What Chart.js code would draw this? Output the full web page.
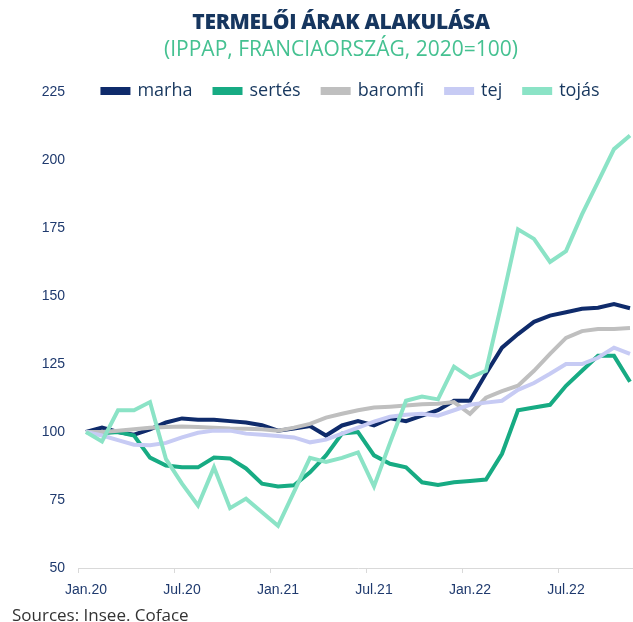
<!DOCTYPE html>
<html>
<head>
<meta charset="utf-8">
<script src="https://cdn.jsdelivr.net/npm/chart.js@4.4.1/dist/chart.umd.min.js"></script>
<style>
  html, body { margin: 0; padding: 0; background: #fff; width: 633px; height: 622px; overflow: hidden; }
  #wrap { position: absolute; left: 0; top: 0; width: 660px; height: 622px; }
  .head { position: absolute; left: 341px; transform: translateX(-50%); white-space: nowrap; font-family: "Open Sans", sans-serif; }
  #title { top: 7px; font-size: 21px; font-weight: 800; color: #16365f; letter-spacing: -0.3px; }
  #subtitle { top: 34px; font-size: 21px; color: #45c191; }
  #source { position: absolute; left: 12px; top: 603px; font-family: "Open Sans", sans-serif; font-size: 17px; color: #333; }
</style>
</head>
<body>
<div id="wrap"><canvas id="chart"></canvas></div>
<div class="head" id="title">TERMELŐI ÁRAK ALAKULÁSA</div>
<div class="head" id="subtitle">(IPPAP, FRANCIAORSZÁG, 2020=100)</div>
<div id="source">Sources: Insee. Coface</div>
<script>
// months Jan 2020 .. Nov 2022
const months = [
  "Jan.20", "Feb.20", "Mar.20", "Apr.20", "May.20", "Jun.20", "Jul.20", "Aug.20", "Sep.20", "Oct.20", "Nov.20", "Dec.20",
  "Jan.21", "Feb.21", "Mar.21", "Apr.21", "May.21", "Jun.21", "Jul.21", "Aug.21", "Sep.21", "Oct.21", "Nov.21", "Dec.21",
  "Jan.22", "Feb.22", "Mar.22", "Apr.22", "May.22", "Jun.22", "Jul.22", "Aug.22", "Sep.22", "Oct.22", "Nov.22"
];
const shownLabels = ["Jan.20", "Jul.20", "Jan.21", "Jul.21", "Jan.22", "Jul.22"];
const yTicks = [50, 75, 100, 125, 150, 175, 200, 225];

const marha = [100, 101.6, 100, 99, 101, 103.5, 105, 104.5, 104.5, 104, 103.5, 102.5,
  100.5, 101.3, 102.2, 98.7, 102.4, 104, 102.4, 105, 104, 106, 108, 111.5,
  111.5, 121.5, 131, 136, 140.5, 142.8, 144, 145.3, 145.7, 147, 145.5];
const sertes = [100, 99.5, 100, 98.7, 90.6, 87.7, 87, 87, 90.6, 90.3, 86.6, 81,
  80, 80.4, 85.2, 91.4, 99.4, 100, 91.4, 88.3, 87, 81.5, 80.5, 81.5,
  82, 82.5, 92, 108, 109, 110, 117, 122.5, 128, 128, 118.5];
const baromfi = [100, 100, 100.5, 101, 101.6, 101.8, 102, 101.8, 101.6, 101.3, 101.2, 101,
  100.5, 101.6, 103, 105.3, 106.7, 108, 109, 109.3, 109.7, 110.2, 110.4, 111,
  106.7, 112.6, 115, 117, 122.5, 128.7, 134.6, 137.1, 137.9, 137.9, 138.2];
const tej = [100, 98.7, 97, 95.3, 95.1, 96, 98, 99.7, 100.5, 100.5, 99.4, 99,
  98.5, 98, 96.2, 97.2, 99.4, 101.6, 103.8, 105.6, 106.3, 106.7, 106, 108,
  110, 110.8, 111.5, 115.5, 118, 121.4, 125, 125, 127.3, 131, 128.7];
const tojas = [100, 96.5, 108, 108, 111, 90, 81, 73, 87, 72, 75.5, 70.5,
  65.5, 78, 90.5, 89, 90.5, 92.5, 80, 96, 111.5, 113, 112, 124,
  120, 122.5, 148, 174.5, 171, 162.5, 166.5, 180, 192, 204, 209];

const seriesNames = ["marha", "sertés", "baromfi", "tej", "tojás"];
const seriesData = [marha, sertes, baromfi, tej, tojas];
const seriesColors = ["#0f2b6b", "#17ab83", "#bfbfbf", "#c7cbf4", "#8be3c6"];

const navy = "#1f3a6e";

// push the legend down so it sits level with the top tick
const legendShift = {
  id: "legendShift",
  afterLayout(chart) {
    const lg = chart.legend;
    lg.top += 18; lg.bottom += 18;
    lg.left += 32; lg.right += 32;
  }
};

const datasets = seriesNames.map((name, i) => ({
  label: name,
  data: seriesData[i],
  borderColor: seriesColors[i],
  backgroundColor: seriesColors[i],
  borderWidth: 4,
  pointRadius: 0,
  tension: 0,
  order: seriesNames.length - i
}));

new Chart(document.getElementById("chart"), {
  type: "line",
  data: { labels: months, datasets: datasets },
  plugins: [legendShift],
  options: {
    responsive: true,
    maintainAspectRatio: false,
    animation: false,
    layout: { padding: { top: 42, right: 22, bottom: 22, left: 0 } },
    plugins: {
      tooltip: { enabled: false },
      legend: {
        position: "top",
        align: "center",
        labels: {
          boxWidth: 26,
          boxHeight: 4,
          padding: 22,
          color: "#17375e",
          font: { family: "Open Sans", size: 18 },
          sort: (a, b) => a.datasetIndex - b.datasetIndex
        }
      }
    },
    scales: {
      x: {
        offset: true,
        afterFit: (s) => { s.height = 32; },
        grid: {
          offset: true,
          drawOnChartArea: false,
          tickLength: 5,
          tickColor: (ctx) => (ctx.index % 6 === 0 ? "#d9d9d9" : "rgba(0,0,0,0)")
        },
        border: { color: "#d9d9d9", width: 1 },
        ticks: {
          autoSkip: false,
          maxRotation: 0,
          padding: 9,
          color: navy,
          font: { family: "Liberation Sans", size: 14 },
          callback: function (v, i) {
            const lab = months[i];
            return shownLabels.includes(lab) ? lab : "";
          }
        }
      },
      y: {
        min: yTicks[0],
        max: yTicks[yTicks.length - 1],
        afterFit: (s) => { s.width = 78; },
        afterBuildTicks: (s) => { s.ticks = yTicks.map(v => ({ value: v })); },
        grid: { display: false, drawTicks: false },
        border: { display: false },
        ticks: {
          padding: 13,
          color: navy,
          font: { family: "Liberation Sans", size: 14 }
        }
      }
    }
  }
});
</script>
</body>
</html>
